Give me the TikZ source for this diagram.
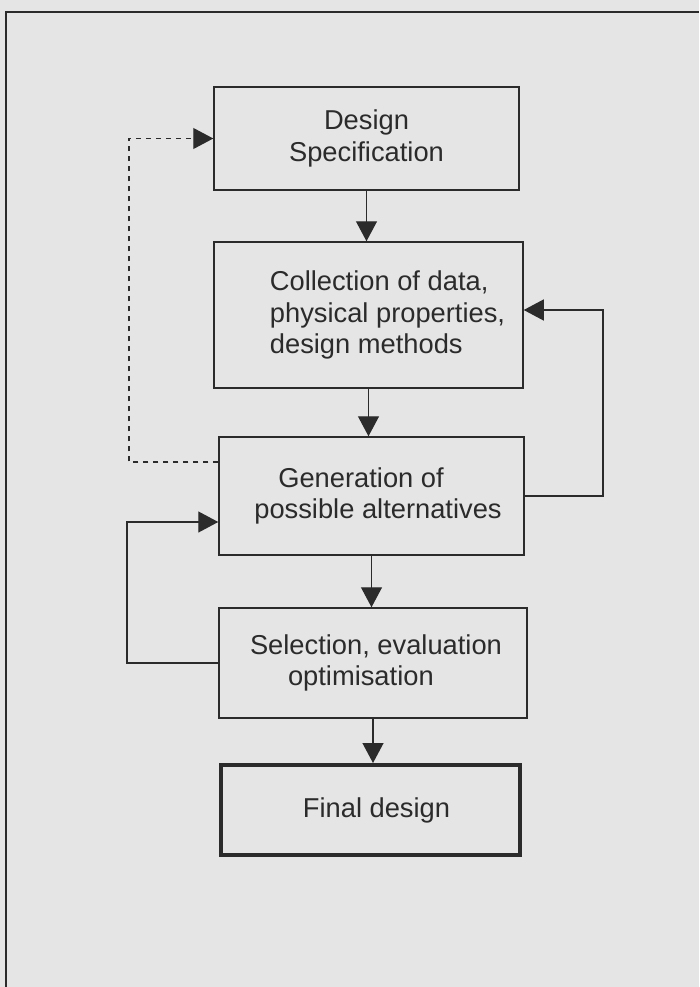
\documentclass[tikz,border=0pt]{standalone}
\usepackage{fontspec}
\setmainfont{Liberation Sans}
\usetikzlibrary{arrows.meta,calc}
\definecolor{paper}{HTML}{E5E5E5}
\definecolor{ink}{HTML}{2B2B2B}
\begin{document}
\begin{tikzpicture}[x=1pt,y=-1pt,
  box/.style={draw=ink, line width=1.5pt, inner sep=0pt, text=ink,
    font=\fontsize{27.3}{31.7}\selectfont},
  link/.style={draw=ink, line width=1.3pt, -{Triangle[length=20pt,width=21pt]}},
  dashlink/.style={draw=ink, line width=1.1pt, dash pattern=on 5pt off 5pt,
    -{Triangle[length=20pt,width=21pt]}}]
  % page and frame
  \fill[paper] (0,0) rectangle (699,987);
  \useasboundingbox (0,0) rectangle (699,987);
  \draw[ink, line width=1.3pt] (6,987) -- (6,12) -- (699,12);

  % process steps
  \node[box, minimum width=305pt, minimum height=103pt, align=center]
    (b1) at (366.5,138.5) {Design\\Specification};
  \node[box, minimum width=309pt, minimum height=146pt, align=left]
    (b2) at (368.5,315)
    {\hspace*{38pt}Collection of data,\\\hspace*{38pt}physical properties,\\\hspace*{38pt}design methods};
  \node[box, minimum width=305pt, minimum height=118pt, align=left]
    (b3) at (371.5,496) {\hspace*{37pt}Generation of\\\hspace*{13pt}possible alternatives};
  \node[box, minimum width=308pt, minimum height=110pt, align=left]
    (b4) at (373,663) {\hspace*{6pt}Selection, evaluation\\\hspace*{44pt}optimisation};
  \node[box, line width=4pt, minimum width=299pt, minimum height=90pt, align=center]
    (b5) at (370.5,810) {\hspace*{12pt}Final design};

  % main flow
  \draw[link] (b1.south) -- (b1.south |- b2.north);
  \draw[link] (b2.south) -- (b2.south |- b3.north);
  \draw[link] (b3.south) -- (b3.south |- b4.north);
  \draw[link] (b4.south) -- (b4.south |- b5.north);

  % feedback loops
  \coordinate (dl) at (129,462);
  \draw[dashlink] (b3.west |- dl) -- (dl) |- (b1.west);
  \coordinate (rl) at (603,496);
  \draw[link] (b3.east) -- (b3.east -| rl) |- ([yshift=5pt]b2.east);
  \coordinate (ll) at (127,522);
  \draw[link] (b4.west) -| (ll) -- (b3.west |- ll);
\end{tikzpicture}
\end{document}
